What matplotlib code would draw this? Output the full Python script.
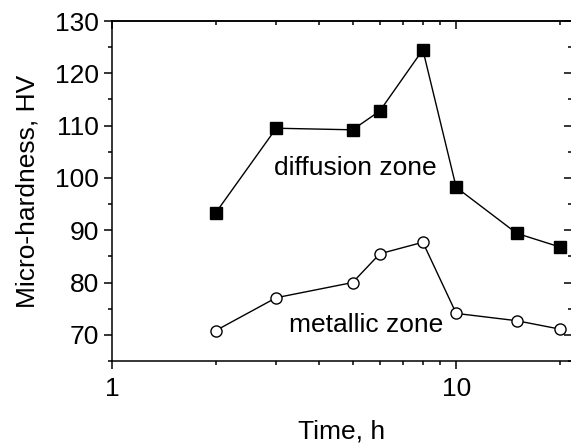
import matplotlib
matplotlib.use('Agg')
import matplotlib.pyplot as plt
from matplotlib.ticker import FixedLocator, NullFormatter

plt.rcParams['font.family'] = ['Liberation Sans', 'DejaVu Sans']

time_h = [2, 3, 5, 6, 8, 10, 15, 20]
diffusion = [93.3, 109.5, 109.2, 112.8, 124.5, 98.2, 89.4, 86.8]
metallic = [70.8, 77.1, 80.0, 85.5, 87.7, 74.1, 72.7, 71.1]

x_major = [1, 10]
x_minor = [2, 3, 4, 5, 6, 7, 8, 9, 20]
y_major = list(range(70, 131, 10))
y_minor = list(range(65, 131, 10))

fs = 19

fig = plt.figure(figsize=(5.71, 4.44), dpi=100)
ax = fig.add_axes([112 / 571, 1 - 361 / 444, (572 - 112) / 571, (361 - 21) / 444])

ax.plot(time_h, diffusion, color='black', lw=1, marker='s', ms=8,
        mfc='black', mec='black', mew=1, clip_on=False)
ax.plot(time_h, metallic, color='black', lw=1, marker='o', ms=8,
        mfc='white', mec='black', mew=1, clip_on=False)

ax.set_xscale('log')
ax.set_xlim(1, 21.7)
ax.set_ylim(65, 130)

ax.xaxis.set_major_locator(FixedLocator(x_major))
ax.xaxis.set_minor_locator(FixedLocator(x_minor))
ax.xaxis.set_minor_formatter(NullFormatter())
ax.set_xticklabels(['1', '10'])
ax.yaxis.set_major_locator(FixedLocator(y_major))
ax.yaxis.set_minor_locator(FixedLocator(y_minor))

ax.tick_params(which='both', direction='out', labelsize=fs, width=1.1)
ax.tick_params(which='major', length=5.5)
ax.tick_params(which='minor', length=3)
ax.tick_params(axis='x', which='major', pad=6)
ax.tick_params(axis='y', which='major', pad=4)
for s in ax.spines.values():
    s.set_linewidth(1.1)

# top and right ticks point into the plot
top = ax.secondary_xaxis('top')
top.xaxis.set_major_locator(FixedLocator(x_major))
top.xaxis.set_minor_locator(FixedLocator(x_minor))
top.tick_params(which='both', direction='in', labeltop=False, width=1.1)
top.tick_params(which='major', length=5.5)
top.tick_params(which='minor', length=3)
top.spines['top'].set_linewidth(1.1)

right = ax.secondary_yaxis('right')
right.yaxis.set_major_locator(FixedLocator(y_major))
right.yaxis.set_minor_locator(FixedLocator(y_minor))
right.tick_params(which='both', direction='in', labelright=False, width=1.1)
right.tick_params(which='major', length=5.5)
right.tick_params(which='minor', length=3)

ax.set_xlabel('Time, h', fontsize=fs, labelpad=13)
ax.set_ylabel('Micro-hardness, HV', fontsize=fs, labelpad=11)

ax.text(5.09, 101.9, 'diffusion zone', fontsize=fs, ha='center', va='center')
ax.text(5.47, 71.9, 'metallic zone', fontsize=fs, ha='center', va='center')

fig.savefig('out.png', dpi=100)
